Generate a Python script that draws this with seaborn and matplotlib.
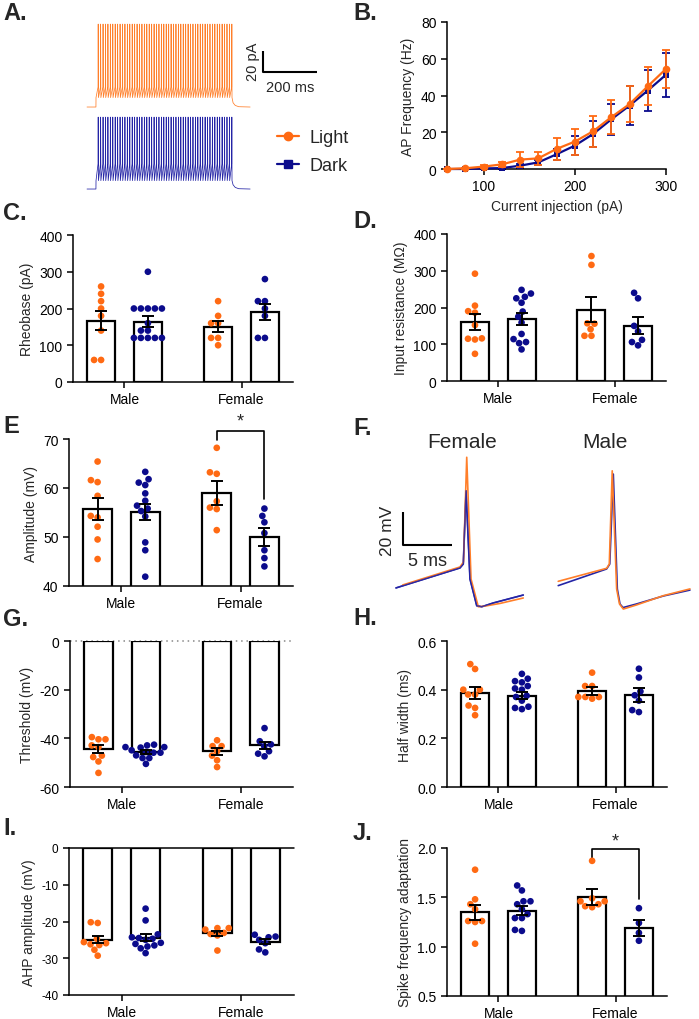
import numpy as np
import pandas as pd
import matplotlib
matplotlib.use('Agg')
import matplotlib.pyplot as plt
from matplotlib.lines import Line2D
import seaborn as sns

sns.set_style('ticks')
plt.rcParams['font.family'] = ['Liberation Sans', 'DejaVu Sans']
plt.rcParams['axes.unicode_minus'] = False
plt.rcParams['axes.linewidth'] = 1.1
plt.rcParams['xtick.major.width'] = 1.1
plt.rcParams['ytick.major.width'] = 1.1
plt.rcParams['xtick.major.size'] = 4
plt.rcParams['ytick.major.size'] = 4
plt.rcParams['xtick.labelsize'] = 10
plt.rcParams['ytick.labelsize'] = 10
plt.rcParams['axes.labelsize'] = 10
plt.rcParams['axes.edgecolor'] = 'black'
plt.rcParams['xtick.color'] = 'black'
plt.rcParams['ytick.color'] = 'black'

ORANGE = '#FF6A13'
BLUE = '#0B0B8C'
TR_ORANGE = '#FF7F2A'
TR_BLUE = '#2424A6'

SEXES = ['Male', 'Female']
CONDS = ['Light', 'Dark']

# ---------------- Panel B data ----------------
current_pA = [60, 80, 100, 120, 140, 160, 180, 200, 220, 240, 260, 280, 300]
freq_light = [0, 0.4, 1.3, 2.5, 5.1, 5.8, 10.9, 14.9, 20.5, 28.2, 35.3, 45.0, 54.5]
freq_light_sem = [0, 0.3, 0.7, 1.4, 4.0, 3.7, 6.1, 7.1, 8.4, 9.4, 9.8, 10.3, 10.5]
freq_dark = [0, 0, 0.3, 0.5, 1.8, 3.6, 8.0, 12.7, 19.0, 27.0, 34.5, 42.7, 51.3]
freq_dark_sem = [0, 0, 0.3, 0.5, 1.0, 1.5, 3.0, 5.3, 7.1, 8.5, 10.4, 11.2, 12.0]

# ---------------- Bar panels (order: Male-Light, Male-Dark, Female-Light, Female-Dark) ----
rheo_male_light = [260, 240, 220, 200, 180, 140, 60, 60]
rheo_male_dark = [300, 200, 200, 200, 200, 200, 160, 140, 140, 120, 120, 120, 120, 120]
rheo_female_light = [220, 180, 160, 160, 120, 120, 100]
rheo_female_dark = [280, 220, 220, 200, 180, 120, 120]
rheo_mean = [167, 164, 151, 191]
rheo_sem = [26, 15, 16, 21]

ir_male_light = [292, 205, 190, 186, 152, 116, 113, 115, 74]
ir_male_dark = [248, 238, 229, 225, 213, 189, 175, 159, 128, 114, 106, 103, 86]
ir_female_light = [340, 316, 157, 156, 141, 123, 123]
ir_female_dark = [240, 225, 150, 135, 112, 106, 97]
ir_mean = [160, 169, 194, 151]
ir_sem = [22, 17, 34, 22]

amp_male_light = [65.4, 61.6, 61.2, 58.4, 54.3, 54.0, 52.1, 49.5, 45.5]
amp_male_dark = [63.3, 61.8, 61.1, 60.6, 58.9, 57.4, 56.4, 55.8, 55.3, 54.2, 48.9, 47.3, 41.9]
amp_female_light = [68.2, 63.2, 62.9, 57.3, 56.0, 55.7, 51.4]
amp_female_dark = [55.8, 54.3, 53.0, 50.8, 47.3, 45.7, 44.0]
amp_mean = [55.7, 55.1, 59.0, 50.0]
amp_sem = [2.2, 1.7, 2.4, 1.8]

thr_male_light = [-39.5, -40.4, -40.4, -42.9, -43.6, -47.1, -47.7, -49.5, -54.2]
thr_male_dark = [-42.6, -42.9, -43.6, -43.6, -43.8, -44.9, -45.6, -45.9, -45.9, -47.0, -48.1, -48.1, -50.5]
thr_female_light = [-40.8, -43.2, -43.2, -45.3, -47.1, -49.0, -51.8]
thr_female_dark = [-35.8, -41.2, -42.5, -43.3, -45.3, -46.3, -47.4]
thr_mean = [-44.5, -45.5, -45.3, -42.9]
thr_sem = [1.6, 0.8, 1.4, 1.4]

hw_male_light = [0.505, 0.485, 0.40, 0.40, 0.38, 0.38, 0.335, 0.325, 0.295]
hw_male_dark = [0.465, 0.445, 0.435, 0.43, 0.415, 0.405, 0.40, 0.375, 0.37, 0.355, 0.33, 0.325, 0.32]
hw_female_light = [0.47, 0.415, 0.415, 0.37, 0.37, 0.37, 0.363]
hw_female_dark = [0.486, 0.45, 0.393, 0.377, 0.355, 0.316, 0.308]
hw_mean = [0.388, 0.375, 0.394, 0.378]
hw_sem = [0.025, 0.014, 0.016, 0.028]

ahp_male_light = [-20.4, -20.2, -24.7, -25.6, -25.9, -26.2, -26.4, -27.7, -29.3]
ahp_male_dark = [-16.5, -19.7, -23.5, -24.3, -24.5, -24.7, -25.0, -25.8, -26.1, -26.5, -26.8, -27.3, -28.6]
ahp_female_light = [-21.8, -21.8, -22.2, -23.1, -23.4, -23.8, -27.9]
ahp_female_dark = [-23.6, -24.1, -24.3, -25.0, -25.9, -27.6, -28.4]
ahp_mean = [-24.9, -24.4, -23.2, -25.5]
ahp_sem = [0.9, 0.9, 0.7, 0.7]

sfa_male_light = [1.78, 1.48, 1.43, 1.38, 1.26, 1.26, 1.25, 1.03]
sfa_male_dark = [1.62, 1.57, 1.46, 1.46, 1.43, 1.38, 1.33, 1.29, 1.29, 1.17, 1.16]
sfa_female_light = [1.87, 1.49, 1.46, 1.46, 1.43, 1.41, 1.40]
sfa_female_dark = [1.39, 1.24, 1.14, 1.06]
sfa_mean = [1.35, 1.365, 1.50, 1.19]
sfa_sem = [0.077, 0.048, 0.08, 0.077]

# ---------------- Panel F example AP traces (ms, mV) ----------------
f_female_light_t = [2.32, 8.16, 8.52, 8.85, 9.29, 10.03, 10.71, 12.24, 14.62]
f_female_light_v = [-57.4, -46.5, -43.5, 20.0, -53.8, -70.6, -70.2, -68.6, -65.3]
f_female_dark_t = [1.63, 8.16, 8.50, 8.78, 9.18, 9.87, 10.38, 11.56, 14.62]
f_female_dark_v = [-59.2, -47.1, -44.7, -0.3, -53.8, -70.0, -70.6, -68.3, -63.5]
f_male_light_t = [1.86, 6.80, 7.07, 7.37, 7.82, 8.11, 8.50, 9.86, 12.58, 15.30]
f_male_light_v = [-55.2, -47.3, -44.7, 11.8, -59.8, -68.9, -72.0, -69.5, -63.9, -59.8]
f_male_dark_t = [1.86, 6.80, 7.12, 7.48, 7.89, 8.16, 8.47, 9.86, 12.58, 15.30]
f_male_dark_v = [-57.8, -47.7, -44.7, 9.8, -59.8, -68.9, -71.1, -68.9, -64.1, -60.5]

# ---------------- Panel A example spike trains ----------------
A_t_start, A_onset, A_offset, A_t_end = 26, 59, 563, 630   # ms
A_isi = 9.0  # ms
A_light = dict(rest=-65, ahp=-56, thr=-46, peak=14)
A_dark = dict(rest=-65, ahp=-57, thr=-41, peak=3.5)

# ---------------- Figure ----------------
W, H = 699, 1020
fig = plt.figure(figsize=(W / 100, H / 100), dpi=100)


def add_ax(l, t, r, b):
    return fig.add_axes([l / W, 1 - b / H, (r - l) / W, (b - t) / H])


def ftext(x, y, s, **kw):
    fig.text(x / W, 1 - y / H, s, **kw)


def bar_panel(ax, groups, means, sems, ylim, yticks, ylabel, tick_fs=10):
    rows = []
    for (sex, cond), vals in groups.items():
        for v in vals:
            rows.append((sex, cond, v))
    pts = pd.DataFrame(rows, columns=['sex', 'cond', 'val'])
    summ = pd.DataFrame({'sex': ['Male', 'Male', 'Female', 'Female'],
                         'cond': ['Light', 'Dark', 'Light', 'Dark'],
                         'val': means})
    sns.barplot(data=summ, x='sex', y='val', hue='cond', order=SEXES, hue_order=CONDS,
                palette=['white', 'white'], edgecolor='black', linewidth=1.6,
                width=0.8, gap=0.4, errorbar=None, legend=False, ax=ax)
    bars = sorted(ax.patches, key=lambda p: p.get_x())
    for p in bars:
        p.set_facecolor('white')
        p.set_edgecolor('black')
        p.set_linewidth(1.6)
        p.set_zorder(1)
    xs = [p.get_x() + p.get_width() / 2 for p in bars]
    sns.swarmplot(data=pts, x='sex', y='val', hue='cond', order=SEXES, hue_order=CONDS,
                  dodge=True, palette=[ORANGE, BLUE], size=4.8, legend=False, ax=ax,
                  zorder=3, linewidth=0)
    ax.errorbar(xs, means, yerr=sems, fmt='none', ecolor='black', elinewidth=1.4,
                capsize=4.5, capthick=1.4, zorder=4)
    ax.set_xlim(-0.44, 1.44)
    ax.set_ylim(*ylim)
    ax.set_yticks(yticks)
    ax.set_xlabel('')
    ax.set_ylabel(ylabel, fontsize=10)
    ax.tick_params(axis='y', labelsize=tick_fs)
    sns.despine(ax=ax)
    return xs


# ---- Panel A ----
axA = add_ax(80, 10, 330, 200)
axA.set_xlim(0, 250 / 0.27)
axA.set_ylim(0, 190 / 1.05)
axA.axis('off')


def spike_train(p):
    t = [A_t_start, A_onset]
    v = [p['rest'], p['rest']]
    for ts in np.arange(A_onset, A_offset - A_isi + 0.1, A_isi):
        t += [ts + 0.3, ts + A_isi - 1.2, ts + A_isi - 0.6, ts + A_isi]
        v += [p['ahp'], p['thr'], p['peak'], p['ahp']]
    t += [A_offset + 4, A_offset + 12, A_offset + 25, A_t_end]
    v += [p['rest'] + 4, p['rest'] + 1.5, p['rest'] + 0.3, p['rest']]
    return np.array(t), np.array(v)


tl, vl = spike_train(A_light)
td, vd = spike_train(A_dark)
axA.plot(tl, vl + 152.6, color=TR_ORANGE, lw=0.55)
axA.plot(td, vd + 74.5, color=TR_BLUE, lw=0.55)
axA.plot([678, 678, 878], [141, 121, 121], color='black', lw=1.5, solid_capstyle='butt')
ftext(253, 62, '20 pA', rotation=90, ha='center', va='center', fontsize=10.5)
ftext(290, 88, '200 ms', ha='center', va='center', fontsize=10.5)

handles = [Line2D([], [], color=ORANGE, marker='o', markersize=6, lw=1.6),
           Line2D([], [], color=BLUE, marker='s', markersize=5.5, lw=1.6)]
fig.legend(handles, ['Light', 'Dark'], loc='upper left',
           bbox_to_anchor=(277 / W, 1 - 130 / H), frameon=False, fontsize=13,
           borderpad=0, borderaxespad=0, handlelength=1.2, handletextpad=0.6,
           labelspacing=0.6)

# ---- Panel B ----
axB = add_ax(447, 23, 666, 170)
dfB = pd.DataFrame({'current': current_pA * 2,
                    'freq': freq_light + freq_dark,
                    'cond': ['Light'] * len(current_pA) + ['Dark'] * len(current_pA)})
axB.errorbar(current_pA, freq_dark, yerr=freq_dark_sem, fmt='none', ecolor=BLUE,
             elinewidth=1.3, capsize=3, capthick=1.3, zorder=2, clip_on=False)
sns.lineplot(data=dfB[dfB.cond == 'Dark'], x='current', y='freq', color=BLUE, marker='s',
             markersize=5, markeredgewidth=0, lw=1.6, errorbar=None, ax=axB, zorder=3)
axB.errorbar(current_pA, freq_light, yerr=freq_light_sem, fmt='none', ecolor=ORANGE,
             elinewidth=1.3, capsize=3, capthick=1.3, zorder=4, clip_on=False)
sns.lineplot(data=dfB[dfB.cond == 'Light'], x='current', y='freq', color=ORANGE, marker='o',
             markersize=5.5, markeredgewidth=0, lw=1.6, errorbar=None, ax=axB, zorder=5)
for ln in axB.lines:
    ln.set_clip_on(False)
axB.set_xlim(60, 300)
axB.set_ylim(0, 80)
axB.set_xticks([100, 200, 300])
axB.set_yticks([0, 20, 40, 60, 80])
axB.set_xlabel('Current injection (pA)', fontsize=10)
axB.set_ylabel('AP Frequency (Hz)', fontsize=10)
sns.despine(ax=axB)

# ---- Panel C ----
axC = add_ax(73, 236, 293, 383)
bar_panel(axC, {('Male', 'Light'): rheo_male_light, ('Male', 'Dark'): rheo_male_dark,
                ('Female', 'Light'): rheo_female_light, ('Female', 'Dark'): rheo_female_dark},
          rheo_mean, rheo_sem, (0, 400), [0, 100, 200, 300, 400], 'Rheobase (pA)')

# ---- Panel D ----
axD = add_ax(447, 235, 666, 382)
bar_panel(axD, {('Male', 'Light'): ir_male_light, ('Male', 'Dark'): ir_male_dark,
                ('Female', 'Light'): ir_female_light, ('Female', 'Dark'): ir_female_dark},
          ir_mean, ir_sem, (0, 400), [0, 100, 200, 300, 400], 'Input resistance (MΩ)')

# ---- Panel E ----
axE = add_ax(69, 440, 293, 587)
xsE = bar_panel(axE, {('Male', 'Light'): amp_male_light, ('Male', 'Dark'): amp_male_dark,
                      ('Female', 'Light'): amp_female_light, ('Female', 'Dark'): amp_female_dark},
                amp_mean, amp_sem, (40, 70), [40, 50, 60, 70], 'Amplitude (mV)')
axE.plot([xsE[2], xsE[2], xsE[3], xsE[3]], [69.8, 71.7, 71.7, 57.7], color='black',
         lw=1.2, clip_on=False)
axE.text((xsE[2] + xsE[3]) / 2, 73.6, '*', ha='center', va='center', fontsize=13)

# ---- Panel F ----
axFf = add_ax(380, 445, 540, 615)
axFm = add_ax(540, 445, 699, 615)
for a, w in ((axFf, 160), (axFm, 159)):
    a.set_xlim(0, w / 9.8)
    a.set_ylim(-75, 170 / 1.65 - 75)
    a.axis('off')
axFf.plot(f_female_dark_t, f_female_dark_v, color=TR_BLUE, lw=1.2)
axFf.plot(f_female_light_t, f_female_light_v, color=TR_ORANGE, lw=1.2)
axFf.plot(f_female_dark_t, f_female_dark_v, color=TR_BLUE, lw=1.0, alpha=0.85)
axFm.plot(f_male_dark_t, f_male_dark_v, color=TR_BLUE, lw=1.2)
axFm.plot(f_male_light_t, f_male_light_v, color=TR_ORANGE, lw=1.2)
axFf.plot([2.35, 2.35, 7.35], [-13.2, -33.2, -33.2], color='black', lw=1.5,
          solid_capstyle='butt', clip_on=False)
ftext(462, 442, 'Female', ha='center', va='center', fontsize=15)
ftext(605, 442, 'Male', ha='center', va='center', fontsize=15)
ftext(387, 531, '20 mV', rotation=90, ha='center', va='center', fontsize=12.5)
ftext(428, 561, '5 ms', ha='center', va='center', fontsize=13)

# ---- Panel G ----
axG = add_ax(70, 642, 293, 788)
bar_panel(axG, {('Male', 'Light'): thr_male_light, ('Male', 'Dark'): thr_male_dark,
                ('Female', 'Light'): thr_female_light, ('Female', 'Dark'): thr_female_dark},
          thr_mean, thr_sem, (-60, 0), [-60, -40, -20, 0], 'Threshold (mV)')
axG.axhline(0, color='#888888', ls=(0, (1, 2.5)), lw=1.1, clip_on=False, zorder=0)

# ---- Panel H ----
axH = add_ax(447, 642, 667, 788)
bar_panel(axH, {('Male', 'Light'): hw_male_light, ('Male', 'Dark'): hw_male_dark,
                ('Female', 'Light'): hw_female_light, ('Female', 'Dark'): hw_female_dark},
          hw_mean, hw_sem, (0, 0.6), [0.0, 0.2, 0.4, 0.6], 'Half width (ms)')
axH.yaxis.set_major_formatter(matplotlib.ticker.FormatStrFormatter('%.1f'))

# ---- Panel I ----
axI = add_ax(69, 849, 294, 996)
bar_panel(axI, {('Male', 'Light'): ahp_male_light, ('Male', 'Dark'): ahp_male_dark,
                ('Female', 'Light'): ahp_female_light, ('Female', 'Dark'): ahp_female_dark},
          ahp_mean, ahp_sem, (-40, 0), [-40, -30, -20, -10, 0], 'AHP amplitude (mV)',
          tick_fs=8.5)
axI.axhline(0, color='black', lw=1.1, clip_on=False, zorder=0)

# ---- Panel J ----
axJ = add_ax(447, 849, 667, 997)
xsJ = bar_panel(axJ, {('Male', 'Light'): sfa_male_light, ('Male', 'Dark'): sfa_male_dark,
                      ('Female', 'Light'): sfa_female_light, ('Female', 'Dark'): sfa_female_dark},
                sfa_mean, sfa_sem, (0.5, 2.0), [0.5, 1.0, 1.5, 2.0], 'Spike frequency adaptation')
axJ.yaxis.set_major_formatter(matplotlib.ticker.FormatStrFormatter('%.1f'))
axJ.plot([xsJ[2], xsJ[2], xsJ[3], xsJ[3]], [1.89, 1.985, 1.985, 1.48], color='black',
         lw=1.2, clip_on=False)
axJ.text((xsJ[2] + xsJ[3]) / 2, 2.07, '*', ha='center', va='center', fontsize=13)

# ---- Panel labels ----
for lab, x, y in [('A.', 3, 2), ('B.', 353, 2), ('C.', 3, 202), ('D.', 353, 210),
                  ('E', 3, 415), ('F.', 353, 417), ('G.', 3, 608), ('H.', 353, 607),
                  ('I.', 3, 817), ('J.', 353, 822)]:
    ftext(x, y, lab, ha='left', va='top', fontsize=17, fontweight='bold')

fig.savefig('out.png', dpi=100)
